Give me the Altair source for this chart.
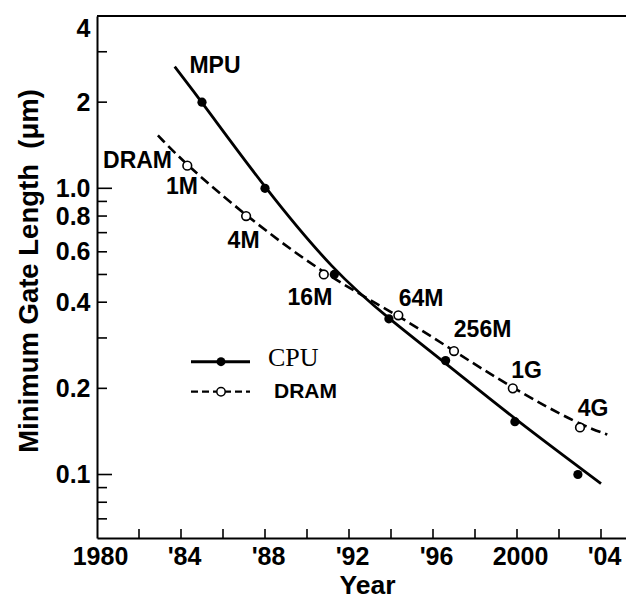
import json
import altair as alt
import pandas as pd

# ---------------- data ----------------
cpu_years = [1985.0, 1988.0, 1991.3, 1993.9, 1996.6, 1999.9, 2002.9]
cpu_vals = [2.0, 1.0, 0.5, 0.35, 0.25, 0.153, 0.1]

dram_years = [1984.3, 1987.1, 1990.8, 1994.35, 1997.0, 1999.8, 2003.0]
dram_vals = [1.2, 0.8, 0.5, 0.36, 0.27, 0.2, 0.146]

cpu_curve_years = [1983.7, 1985.0, 1988.0, 1991.3, 1993.9, 1996.6, 1999.9, 2004.0]
cpu_curve_vals = [2.66, 2.0, 1.0, 0.51, 0.35, 0.245, 0.156, 0.093]

dram_curve_years = [1982.9, 1984.3, 1987.1, 1990.8, 1994.35, 1997.0, 1999.8, 2003.0, 2004.3]
dram_curve_vals = [1.53, 1.2, 0.8, 0.5, 0.36, 0.27, 0.2, 0.149, 0.138]

note_text = ["MPU", "DRAM", "1M", "4M", "16M", "64M", "256M", "1G", "4G"]
note_years = [1985.62, 1981.93, 1984.05, 1986.98, 1990.14, 1995.43, 1998.36, 2000.46, 2003.62]
note_vals = [2.675, 1.25, 1.014, 0.656, 0.413, 0.411, 0.319, 0.2305, 0.1697]

x_label_values = [1980, 1984, 1988, 1992, 1996, 2000, 2004]
x_label_text = ["1980", "'84", "'88", "'92", "'96", "2000", "'04"]
x_tick_values = [1982, 1984, 1986, 1988, 1990, 1992, 1994, 1996, 1998, 2000, 2002, 2004]

y_label_values = [0.1, 0.2, 0.4, 0.6, 0.8, 1.0, 2, 4]
y_label_text = ["0.1", "0.2", "0.4", "0.6", "0.8", "1.0", "2", "4"]
y_long_ticks = [0.1, 1.0]
y_short_ticks = [0.07, 0.08, 0.09, 0.2, 0.3, 0.4, 0.5, 0.6, 0.7, 0.8, 0.9, 2, 3]

legend_names = ["CPU", "DRAM"]

# ---------------- layout ----------------
W, H = 529, 522
X_END = 1980 + W / 21.0
SANS = "Liberation Sans"
SERIF = "Liberation Serif"

xscale = alt.Scale(domain=[1980, X_END], nice=False, zero=False)
yscale = alt.Scale(type="log", domain=[0.06, 4], nice=False)


def label_expr(values, texts):
    return "%s[indexof(%s, datum.value)]" % (json.dumps(texts), json.dumps(values))


x_axis = alt.Axis(
    values=x_label_values, labelExpr=label_expr(x_label_values, x_label_text),
    ticks=False, grid=False, domainWidth=2, domainColor="black",
    labelFont=SANS, labelFontWeight="bold", labelFontSize=25, labelColor="black",
    labelPadding=6, labelOffset=3, labelFlush=False, labelOverlap=False,
    title="Year", titleFont=SANS, titleFontWeight="bold", titleFontSize=26.5,
    titleColor="black", titleX=270, titleY=55, titleBaseline="alphabetic",
)
y_axis = alt.Axis(
    values=y_label_values, labelExpr=label_expr(y_label_values, y_label_text),
    ticks=False, grid=False, domainWidth=2, domainColor="black",
    labelFont=SANS, labelFontWeight="bold", labelFontSize=25, labelColor="black",
    labelPadding=7, labelFlush=True, labelOverlap=False,
    title="Minimum Gate Length\u00a0 (\u03bcm)", titleFont=SANS, titleFontWeight="bold",
    titleFontSize=27.5, titleColor="black", titleAngle=270, titleX=-60, titleY=254.5,
    titleBaseline="alphabetic", titleAlign="center",
)

cpu_df = pd.DataFrame({"year": cpu_years, "value": cpu_vals})
dram_df = pd.DataFrame({"year": dram_years, "value": dram_vals})
cpu_curve_df = pd.DataFrame({"year": cpu_curve_years, "value": cpu_curve_vals})
dram_curve_df = pd.DataFrame({"year": dram_curve_years, "value": dram_curve_vals})
note_df = pd.DataFrame({"year": note_years, "value": note_vals, "label": note_text})

X = alt.X("year:Q", scale=xscale, axis=x_axis)
Y = alt.Y("value:Q", scale=yscale, axis=y_axis)

cpu_line = alt.Chart(cpu_curve_df).mark_line(
    interpolate="basis", color="black", strokeWidth=2.8
).encode(x=X, y=Y)

dram_line = alt.Chart(dram_curve_df).mark_line(
    interpolate="basis", color="black", strokeWidth=2.6, strokeDash=[10, 5]
).encode(x=X, y=Y)

cpu_pts = alt.Chart(cpu_df).mark_point(
    shape="circle", filled=True, color="black", size=85, opacity=1
).encode(x=X, y=Y)

dram_pts = alt.Chart(dram_df).mark_point(
    shape="circle", filled=True, fill="white", stroke="black", strokeWidth=1.6,
    size=75, opacity=1
).encode(x=X, y=Y)

notes = alt.Chart(note_df).mark_text(
    font=SANS, fontWeight="bold", fontSize=23, color="black", align="center", baseline="middle"
).encode(x=X, y=Y, text="label:N")

# axis ticks (pointing inward)
xt = alt.Chart(pd.DataFrame({"year": x_tick_values})).mark_rule(
    color="black", strokeWidth=1.6
).encode(x=X, y=alt.value(H - 9), y2=alt.value(H))
ytl = alt.Chart(pd.DataFrame({"value": y_long_ticks})).mark_rule(
    color="black", strokeWidth=1.6
).encode(y=Y, x=alt.value(0), x2=alt.value(15))
yts = alt.Chart(pd.DataFrame({"value": y_short_ticks})).mark_rule(
    color="black", strokeWidth=1.6
).encode(y=Y, x=alt.value(0), x2=alt.value(10))

one = pd.DataFrame({"a": [0]})
top_line = alt.Chart(one).mark_rule(color="black", strokeWidth=2).encode(
    x=alt.value(0), x2=alt.value(W), y=alt.value(0)
)

# legend (hand-built)
lg_cpu_line = alt.Chart(one).mark_rule(color="black", strokeWidth=3).encode(
    x=alt.value(94), x2=alt.value(153), y=alt.value(345.7)
)
lg_cpu_dot = alt.Chart(one).mark_point(
    shape="circle", filled=True, color="black", size=80, opacity=1
).encode(x=alt.value(124), y=alt.value(345.7))
lg_cpu_txt = alt.Chart(pd.DataFrame({"t": [legend_names[0]]})).mark_text(
    font=SERIF, fontSize=26, color="black", align="left", baseline="alphabetic"
).encode(x=alt.value(171), y=alt.value(350), text="t:N")
lg_dram_line = alt.Chart(one).mark_rule(color="black", strokeWidth=2.2, strokeDash=[7, 4]).encode(
    x=alt.value(94), x2=alt.value(153), y=alt.value(375.7)
)
lg_dram_dot = alt.Chart(one).mark_point(
    shape="circle", filled=True, fill="white", stroke="black", strokeWidth=1.5, size=70, opacity=1
).encode(x=alt.value(124), y=alt.value(375.7))
lg_dram_txt = alt.Chart(pd.DataFrame({"t": [legend_names[1]]})).mark_text(
    font=SANS, fontWeight="bold", fontSize=21, color="black", align="left", baseline="alphabetic"
).encode(x=alt.value(177), y=alt.value(382), text="t:N")

chart = alt.layer(
    cpu_line, dram_line, xt, ytl, yts, top_line, cpu_pts, dram_pts, notes,
    lg_cpu_line, lg_dram_line, lg_cpu_dot, lg_dram_dot, lg_cpu_txt, lg_dram_txt,
).properties(
    width=W, height=H,
    autosize=alt.AutoSizeParams(type="none"),
    padding={"left": 89, "top": 8, "right": 0, "bottom": 62},
    background="white",
).configure_view(stroke=None)

chart.save("out.html", embed_options={"renderer": "svg", "actions": False})
